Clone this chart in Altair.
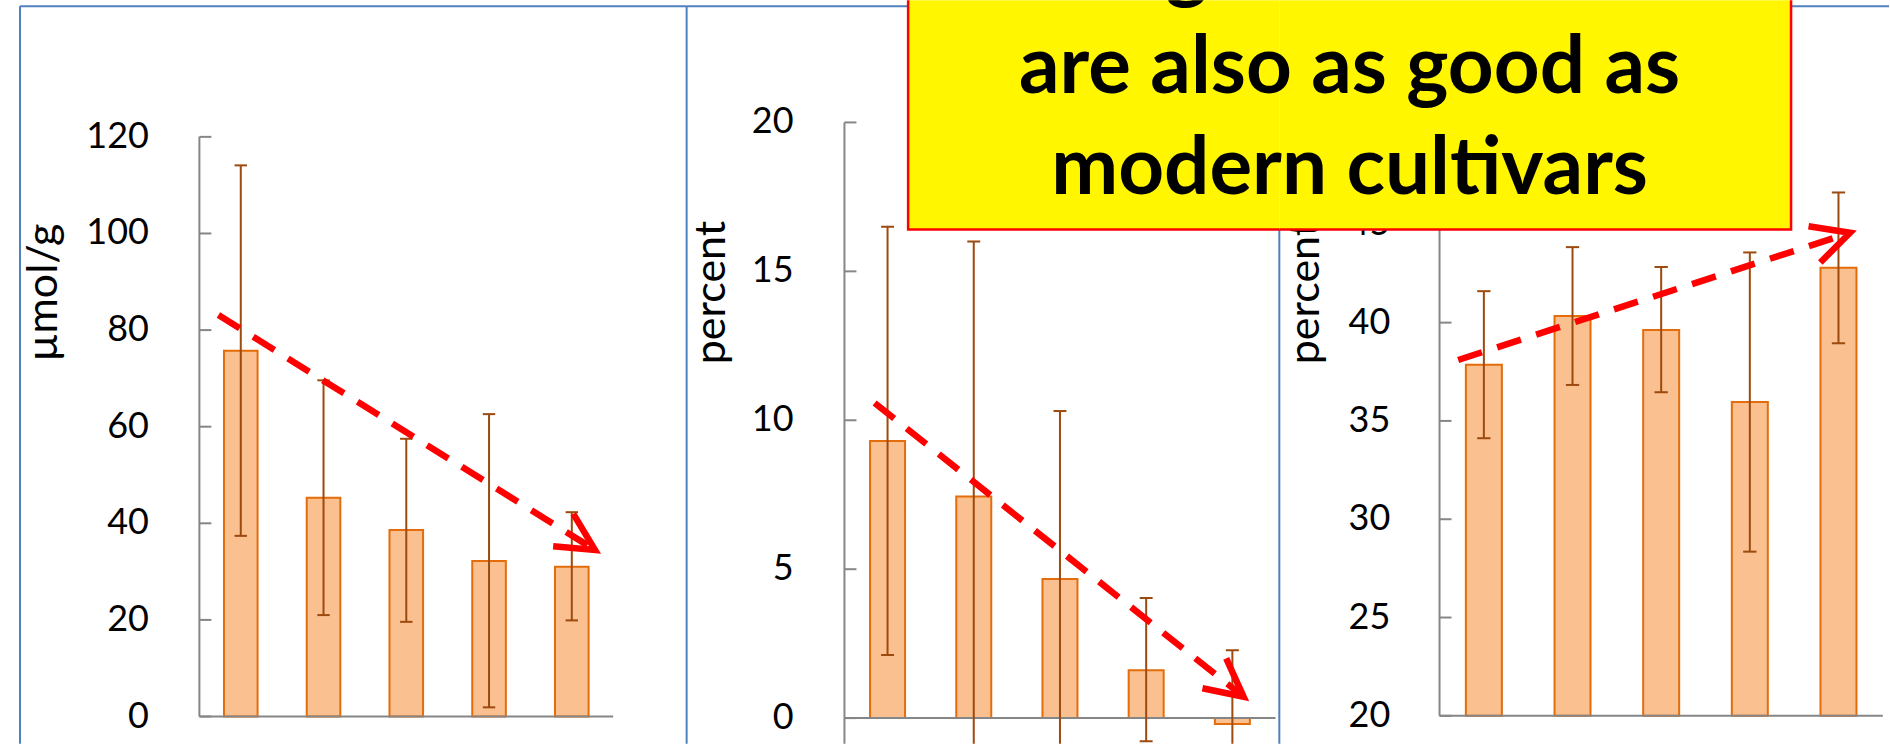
import math

import altair as alt
import pandas as pd

# ---------------------------------------------------------------- data
GROUPS = [1, 2, 3, 4, 5]

UMOL_MEAN = [75.7, 45.3, 38.6, 32.2, 31.0]
UMOL_LOW = [37.4, 21.0, 19.6, 1.9, 19.9]
UMOL_HIGH = [114.1, 69.6, 57.5, 62.6, 42.3]

PCT_A_MEAN = [9.3, 7.44, 4.67, 1.61, -0.2]
PCT_A_LOW = [2.12, -1.12, -0.97, -0.78, -2.68]
PCT_A_HIGH = [16.5, 16.0, 10.31, 4.03, 2.28]

PCT_B_MEAN = [37.86, 40.34, 39.62, 35.96, 42.79]
PCT_B_LOW = [34.12, 36.83, 36.46, 28.35, 38.95]
PCT_B_HIGH = [41.6, 43.84, 42.83, 43.57, 46.62]

TICKS_1 = [0, 20, 40, 60, 80, 100, 120]
TICKS_2 = [0, 5, 10, 15, 20]
TICKS_3 = [20, 25, 30, 35, 40, 45, 50]

# trend arrows: ([tail group pos, head group pos], [tail value, head value])
TREND_1 = ([0.23, 4.78], [83.1, 34.5])
TREND_2 = ([0.35, 4.63], [10.58, 0.72])
TREND_3 = ([0.21, 4.63], [38.1, 44.57])

CALLOUT = ["Organic wheats", "are also as good as", "modern cultivars"]

# ---------------------------------------------------------------- style
FONT = "Lato"
H = 744
BLUE = "#4F81BD"
GRAY = "#868686"
BAR_FILL = "#FAC090"
BAR_EDGE = "#E46C0A"
ERR = "#9C4A0E"
RED = "#FF0000"
YELLOW = "#FFF600"
HALF_BAR = 0.203
HALF_CAP = 0.075
TICK_LEN = 12
ARROW_W = 6.5
CHEVRON = "M -1 -0.51 L 0 0 L -1 0.51"
CHEVRON_SIZE = 5600

# panel geometry: width, x of value axis, pixels per group,
# a reference value with its pixel row, pixels per unit
GEOM = [
    dict(width=687, axis_px=199.5, band=82.8, ref=0, ref_px=716.7, ppu=4.833),
    dict(width=593, axis_px=157.9, band=86.25, ref=0, ref_px=718.3, ppu=29.8),
    dict(width=610, axis_px=160.3, band=88.7, ref=20, ref_px=716.0, ppu=19.67),
]

ONE = pd.DataFrame({"k": [0]})


def scales(g):
    W = g["width"]
    xs = alt.Scale(domain=[-g["axis_px"] / g["band"], (W - g["axis_px"]) / g["band"]],
                   nice=False, zero=False)
    ys = alt.Scale(domain=[g["ref"] - (H - g["ref_px"]) / g["ppu"], g["ref"] + g["ref_px"] / g["ppu"]],
                   nice=False, zero=False)
    return xs, ys


def rule_px(x, x2, y, y2, color, width):
    return alt.Chart(ONE).mark_rule(color=color, strokeWidth=width).encode(
        x=alt.value(x), x2=alt.value(x2), y=alt.value(y), y2=alt.value(y2))


def panel(g, mean, low, high, ticks, axis_range, base, title, label_right, title_base_x,
          trend, frame, extra, clip=False):
    xs, ys = scales(g)
    W = g["width"]
    X = lambda f: alt.X(f, type="quantitative", scale=xs, axis=None)
    Y = lambda f: alt.Y(f, type="quantitative", scale=ys, axis=None)

    bars = pd.DataFrame({
        "group": GROUPS,
        "c": [i - 0.5 for i in GROUPS],
        "mean": mean, "low": low, "high": high,
    })
    bars["l"] = bars["c"] - HALF_BAR
    bars["r"] = bars["c"] + HALF_BAR
    bars["cl"] = bars["c"] - HALF_CAP
    bars["cr"] = bars["c"] + HALF_CAP
    bars["base"] = base

    # value axis: line, inward ticks, labels and title
    yline = pd.DataFrame({"x": [0], "y0": [axis_range[0]], "y1": [axis_range[1]]})
    tick_df = pd.DataFrame({
        "y": ticks,
        "x0": 0.0,
        "x1": TICK_LEN / g["band"],
        "lx": (label_right - g["axis_px"]) / g["band"],
        "label": [str(t) for t in ticks],
    })
    xline = pd.DataFrame({"x0": [0], "x1": [len(GROUPS)], "y": [base]})

    layers = list(frame)
    layers.append(alt.Chart(yline).mark_rule(color=GRAY, strokeWidth=2, clip=True).encode(
        x=X("x"), y=Y("y0"), y2="y1"))
    layers.append(alt.Chart(tick_df).mark_rule(color=GRAY, strokeWidth=2).encode(
        x=X("x0"), x2="x1", y=Y("y")))
    layers.append(alt.Chart(tick_df).mark_text(
        font=FONT, fontSize=36, color="black", align="right", baseline="middle").encode(
        x=X("lx"), y=Y("y"), text="label:N"))
    layers.append(alt.Chart(ONE).mark_text(
        text=title, font=FONT, fontSize=43, color="black", angle=270,
        align="center", baseline="alphabetic").encode(
        x=alt.value(title_base_x), y=alt.value(292.5)))

    # bars and category axis line
    layers.append(alt.Chart(bars).mark_bar(
        fill=BAR_FILL, stroke=BAR_EDGE, strokeWidth=2, clip=clip).encode(
        x=X("l"), x2="r", y=Y("mean"), y2="base"))
    layers.append(alt.Chart(xline).mark_rule(color=GRAY, strokeWidth=2).encode(
        x=X("x0"), x2="x1", y=Y("y")))

    # error bars
    layers.append(alt.Chart(bars).mark_rule(color=ERR, strokeWidth=2, clip=clip).encode(
        x=X("c"), y=Y("low"), y2="high"))
    for f in ("low", "high"):
        layers.append(alt.Chart(bars).mark_rule(color=ERR, strokeWidth=2, clip=clip).encode(
            x=X("cl"), x2="cr", y=Y(f)))

    # dashed trend arrow
    (tx0, tx1), (ty0, ty1) = trend
    shaft = pd.DataFrame({"x0": [tx0], "x1": [tx1], "y0": [ty0], "y1": [ty1]})
    angle = math.degrees(math.atan2(-(ty1 - ty0) * g["ppu"], (tx1 - tx0) * g["band"])) % 360
    layers.append(alt.Chart(shaft).mark_rule(
        color=RED, strokeWidth=ARROW_W, strokeDash=[25, 16], strokeCap="butt").encode(
        x=X("x0"), x2="x1", y=Y("y0"), y2="y1"))
    layers.append(alt.Chart(shaft).mark_point(
        shape=CHEVRON, size=CHEVRON_SIZE, filled=False, color=RED, strokeWidth=ARROW_W,
        opacity=1, angle=angle, strokeCap="butt", strokeJoin="miter").encode(
        x=X("x1"), y=Y("y1")))

    layers.extend(extra)
    return alt.layer(*layers).properties(width=W, height=H)


# ---------------------------------------------------------------- panels
W1, W2, W3 = (g["width"] for g in GEOM)
BOX_LEFT, BOX_RIGHT, BOX_BOTTOM = 908.6, 1792.0, 229.3
P2_X0, P3_X0 = W1, W1 + W2
TEXT_CX = (BOX_LEFT + BOX_RIGHT) / 2

frame1 = [
    rule_px(20, 20, 6, H, BLUE, 2),
    rule_px(20, W1, 6, 6, BLUE, 2),
]
frame2 = [
    rule_px(0, 0, 6, H, BLUE, 2),
    rule_px(0, W2, 6, 6, BLUE, 2),
    # border shared with the third panel; its upper part sits under the callout
    rule_px(W2, W2, BOX_BOTTOM, H, BLUE, 2),
]
frame3 = [rule_px(BOX_RIGHT - P3_X0, W3, 6, 6, BLUE, 2)]

box2 = [
    alt.Chart(ONE).mark_rect(fill=YELLOW, stroke=RED, strokeWidth=2.5, clip=True).encode(
        x=alt.value(BOX_LEFT - P2_X0), x2=alt.value(W2 + 40),
        y=alt.value(-20), y2=alt.value(BOX_BOTTOM)),
    alt.Chart(ONE).mark_text(
        text=CALLOUT[0], font=FONT, fontSize=80, fontWeight="bold", color="black",
        align="center", baseline="alphabetic", clip=True).encode(
        x=alt.value(TEXT_CX - P2_X0), y=alt.value(-7.7)),
]
box3 = [
    alt.Chart(ONE).mark_rect(fill=YELLOW, stroke=RED, strokeWidth=2.5, clip=True).encode(
        x=alt.value(-40), x2=alt.value(BOX_RIGHT - P3_X0),
        y=alt.value(-20), y2=alt.value(BOX_BOTTOM)),
    alt.Chart(ONE).mark_text(
        text=CALLOUT[1:], lineHeight=101, font=FONT, fontSize=80, fontWeight="bold",
        color="black", align="center", baseline="alphabetic").encode(
        x=alt.value(TEXT_CX - P3_X0), y=alt.value(93.3)),
]

p1 = panel(GEOM[0], UMOL_MEAN, UMOL_LOW, UMOL_HIGH, TICKS_1, (0, 120), 0,
           "µmol/g", 149.0, 57.0, TREND_1, frame1, [])
p2 = panel(GEOM[1], PCT_A_MEAN, PCT_A_LOW, PCT_A_HIGH, TICKS_2, (-5, 20), 0,
           "percent", 107.0, 725.0 - P2_X0, TREND_2, frame2, box2, clip=True)
p3 = panel(GEOM[2], PCT_B_MEAN, PCT_B_LOW, PCT_B_HIGH, TICKS_3, (20, 50), 20,
           "percent", 111.0, 1320.0 - P3_X0, TREND_3, frame3, box3)

chart = (
    alt.hconcat(p1, p2, p3, spacing=0, bounds="flush")
    .properties(background="white", padding=0)
    .configure_view(strokeWidth=0)
)

chart.save("out.html", embed_options={"renderer": "svg", "actions": False})
